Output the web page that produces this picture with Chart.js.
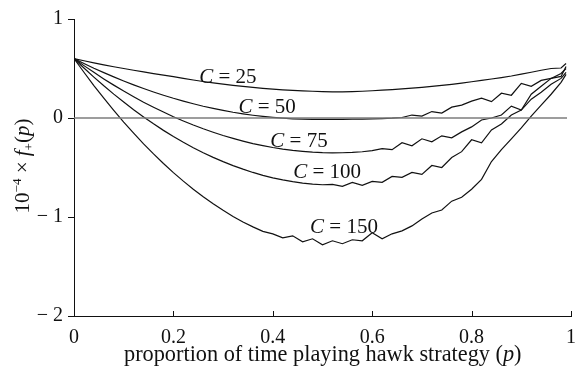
<!DOCTYPE html>
<html>
<head>
<meta charset="utf-8">
<script src="https://cdn.jsdelivr.net/npm/chart.js@4/dist/chart.umd.min.js"></script>
<style>
  body { margin: 0; background: #fff; }
  canvas { display: block; }
</style>
</head>
<body>
<canvas id="fitness" width="586" height="380"></canvas>
<script>
// proportion of time playing hawk (p)
const pValues = [0, 0.02, 0.04, 0.06, 0.08, 0.10, 0.12, 0.14, 0.16, 0.18,
    0.20, 0.22, 0.24, 0.26, 0.28, 0.30, 0.32, 0.34, 0.36, 0.38,
    0.40, 0.42, 0.44, 0.46, 0.48, 0.50, 0.52, 0.54, 0.56, 0.58,
    0.60, 0.62, 0.64, 0.66, 0.68, 0.70, 0.72, 0.74, 0.76, 0.78,
    0.80, 0.82, 0.84, 0.86, 0.88, 0.90, 0.92, 0.94, 0.96, 0.98, 0.99];

// 10^-4 x f+(p) for each cost of injury C
const fitnessC25 = [0.600, 0.578, 0.557, 0.537, 0.518, 0.500, 0.482, 0.465, 0.449, 0.433,
    0.418, 0.400, 0.384, 0.369, 0.355, 0.342, 0.330, 0.319, 0.309, 0.300,
    0.292, 0.285, 0.279, 0.274, 0.270, 0.266, 0.264, 0.264, 0.266, 0.270,
    0.275, 0.281, 0.287, 0.294, 0.302, 0.310, 0.319, 0.329, 0.340, 0.352,
    0.366, 0.380, 0.394, 0.408, 0.424, 0.443, 0.462, 0.482, 0.500, 0.505, 0.550];

const fitnessC50 = [0.600, 0.551, 0.503, 0.458, 0.415, 0.374, 0.335, 0.298, 0.263, 0.230,
    0.199, 0.171, 0.144, 0.119, 0.097, 0.077, 0.058, 0.042, 0.028, 0.016,
    0.006, -0.002, -0.008, -0.012, -0.014, -0.014, -0.013, -0.013, -0.012, -0.011,
    -0.009, -0.006, -0.002, 0.005, 0.030, 0.020, 0.065, 0.050, 0.110, 0.130,
    0.170, 0.200, 0.165, 0.250, 0.230, 0.350, 0.320, 0.380, 0.400, 0.420, 0.520];

const fitnessC75 = [0.600, 0.529, 0.461, 0.395, 0.332, 0.272, 0.215, 0.160, 0.109, 0.060,
    0.013, -0.030, -0.071, -0.109, -0.144, -0.177, -0.206, -0.233, -0.258, -0.279,
    -0.298, -0.314, -0.327, -0.337, -0.345, -0.350, -0.352, -0.351, -0.348, -0.341,
    -0.330, -0.310, -0.320, -0.250, -0.280, -0.210, -0.240, -0.180, -0.200, -0.140,
    -0.090, -0.020, 0.000, 0.030, 0.120, 0.080, 0.240, 0.320, 0.400, 0.450, 0.500];

const fitnessC100 = [0.600, 0.505, 0.413, 0.325, 0.241, 0.161, 0.084, 0.011, -0.059, -0.125,
    -0.187, -0.245, -0.300, -0.351, -0.398, -0.441, -0.481, -0.517, -0.550, -0.579,
    -0.604, -0.625, -0.643, -0.657, -0.667, -0.674, -0.670, -0.690, -0.650, -0.680,
    -0.640, -0.650, -0.590, -0.600, -0.550, -0.570, -0.480, -0.500, -0.400, -0.340,
    -0.220, -0.250, -0.120, -0.060, 0.030, 0.080, 0.190, 0.260, 0.340, 0.400, 0.460];

const fitnessC150 = [0.600, 0.462, 0.328, 0.200, 0.077, -0.041, -0.153, -0.261, -0.363, -0.460,
    -0.552, -0.638, -0.720, -0.796, -0.867, -0.933, -0.994, -1.050, -1.100, -1.145,
    -1.170, -1.210, -1.190, -1.250, -1.220, -1.280, -1.240, -1.270, -1.230, -1.240,
    -1.160, -1.220, -1.170, -1.140, -1.090, -1.020, -0.960, -0.930, -0.840, -0.800,
    -0.720, -0.620, -0.440, -0.320, -0.210, -0.100, 0.020, 0.130, 0.240, 0.360, 0.440];

const costLabels = ['C = 25', 'C = 50', 'C = 75', 'C = 100', 'C = 150'];
const yTicks = [1, 0, -1, -2];
const xTicks = [0, 0.2, 0.4, 0.6, 0.8, 1];

// where each "C = ..." label sits (left edge p, baseline value)
const labelAnchors = [
    { p: 0.252, v: 0.354 },
    { p: 0.331, v: 0.050 },
    { p: 0.395, v: -0.293 },
    { p: 0.441, v: -0.606 },
    { p: 0.475, v: -1.162 }
];

const serif = '"Liberation Serif", "Times New Roman", serif';

function toPoints(ys) {
    return ys.map((y, i) => ({ x: pValues[i], y: y }));
}

const curveStyle = {
    borderColor: '#111',
    borderWidth: 1.2,
    pointRadius: 0,
    tension: 0,
    fill: false
};

// hand drawn text pieces: curve labels, x title, rotated y title, inward x ticks
const annotations = {
    id: 'annotations',
    afterDatasetsDraw(chart) {
        const ctx = chart.ctx;
        const xs = chart.scales.x;
        const ys = chart.scales.y;
        ctx.save();
        ctx.fillStyle = '#111';
        ctx.textBaseline = 'alphabetic';
        ctx.textAlign = 'left';

        // inward tick marks on the p axis
        ctx.strokeStyle = '#111';
        ctx.lineWidth = 1;
        xTicks.slice(1).forEach(t => {
            const x = Math.round(xs.getPixelForValue(t)) + 0.5;
            ctx.beginPath();
            ctx.moveTo(x, chart.chartArea.bottom);
            ctx.lineTo(x, chart.chartArea.bottom - 5);
            ctx.stroke();
        });

        // C = ... labels
        costLabels.forEach((txt, i) => {
            let x = xs.getPixelForValue(labelAnchors[i].p);
            const y = ys.getPixelForValue(labelAnchors[i].v);
            ctx.font = 'italic 21px ' + serif;
            ctx.fillText('C', x, y);
            x += ctx.measureText('C').width;
            ctx.font = '21px ' + serif;
            ctx.fillText(txt.slice(1), x, y);
        });

        // x axis title
        const xParts = [
            ['proportion of time playing hawk strategy (', ''],
            ['p', 'italic '],
            [')', '']
        ];
        let xx = 124;
        xParts.forEach(([s, st]) => {
            ctx.font = st + '22.3px ' + serif;
            ctx.fillText(s, xx, 361);
            xx += ctx.measureText(s).width;
        });

        // y axis title, rotated
        const yParts = [
            { s: '10', f: '21px ', dy: 0 },
            { s: '\u22124', f: '13px ', dy: -8 },
            { s: ' \u00d7 ', f: '21px ', dy: 0 },
            { s: 'f', f: 'italic 21px ', dy: 0 },
            { s: '+', f: '13px ', dy: 4 },
            { s: '(', f: '21px ', dy: 0 },
            { s: 'p', f: 'italic 21px ', dy: 0 },
            { s: ')', f: '21px ', dy: 0 }
        ];
        let total = 0;
        yParts.forEach(part => {
            ctx.font = part.f + serif;
            total += ctx.measureText(part.s).width;
        });
        ctx.translate(29, 166 + total / 2);
        ctx.rotate(-Math.PI / 2);
        let yy = 0;
        yParts.forEach(part => {
            ctx.font = part.f + serif;
            ctx.fillText(part.s, yy, part.dy);
            yy += ctx.measureText(part.s).width;
        });
        ctx.restore();
    }
};

new Chart(document.getElementById('fitness'), {
    type: 'line',
    data: {
        datasets: [
            {
                label: 'zero',
                data: [{ x: 0, y: 0 }, { x: 0.992, y: 0 }],
                borderColor: '#7d7d7d',
                borderWidth: 1.6,
                pointRadius: 0,
                fill: false
            },
            Object.assign({ label: costLabels[0], data: toPoints(fitnessC25) }, curveStyle),
            Object.assign({ label: costLabels[1], data: toPoints(fitnessC50) }, curveStyle),
            Object.assign({ label: costLabels[2], data: toPoints(fitnessC75) }, curveStyle),
            Object.assign({ label: costLabels[3], data: toPoints(fitnessC100) }, curveStyle),
            Object.assign({ label: costLabels[4], data: toPoints(fitnessC150) }, curveStyle)
        ]
    },
    options: {
        responsive: false,
        animation: false,
        layout: { padding: { top: 19, right: 11, left: 0, bottom: 0 } },
        plugins: {
            legend: { display: false },
            tooltip: { enabled: false }
        },
        scales: {
            x: {
                type: 'linear',
                min: 0,
                max: 1,
                afterFit(scale) { scale.height = 64; },
                afterBuildTicks(scale) { scale.ticks = xTicks.map(v => ({ value: v })); },
                grid: { display: true, drawOnChartArea: false, drawTicks: false },
                border: { display: true, color: '#111', width: 1 },
                ticks: {
                    padding: 10,
                    color: '#111',
                    font: { family: serif, size: 20 },
                    maxRotation: 0,
                    callback: v => (v === 0 || v === 1) ? String(v) : v.toFixed(1)
                }
            },
            y: {
                type: 'linear',
                min: -2,
                max: 1,
                afterFit(scale) { scale.width = 74; },
                afterBuildTicks(scale) { scale.ticks = yTicks.map(v => ({ value: v })); },
                grid: { display: true, drawOnChartArea: false, drawTicks: true, tickLength: 6, color: '#111' },
                border: { display: true, color: '#111', width: 1 },
                ticks: {
                    padding: 5,
                    color: '#111',
                    font: { family: serif, size: 20 },
                    callback: v => v < 0 ? '\u2212 ' + Math.abs(v) : String(v)
                }
            }
        }
    },
    plugins: [annotations]
});
</script>
</body>
</html>
